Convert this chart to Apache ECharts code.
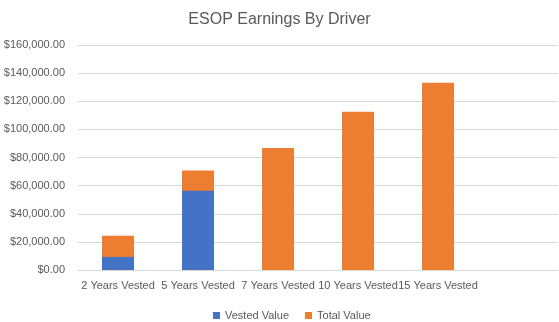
<!DOCTYPE html>
<html><head><meta charset="utf-8">
<script src="https://cdn.jsdelivr.net/npm/echarts@6/dist/echarts.min.js"></script>
<style>html,body{margin:0;padding:0;background:#fff}#c{width:559px;height:322px}</style>
</head><body><div id="c"></div>
<script>
const categories = ['2 Years Vested','5 Years Vested','7 Years Vested','10 Years Vested','15 Years Vested',''];
const vestedValue = [9300, 56400, 0, 0, 0, null];
const totalValue = [24300, 70700, 86800, 112500, 133100, null];
const yTicks = [0, 20000, 40000, 60000, 80000, 100000, 120000, 140000, 160000];

const fmt = v => '$' + v.toLocaleString('en-US', {minimumFractionDigits: 2, maximumFractionDigits: 2});
const chart = echarts.init(document.getElementById('c'));
chart.setOption({
  animation: false,
  title: { text: 'ESOP Earnings By Driver', left: 'center', top: 7,
    textStyle: { fontFamily: 'Liberation Sans', fontSize: 16, fontWeight: 'normal', color: '#595959' } },
  legend: { top: 305, left: 208, itemWidth: 7, itemHeight: 7, itemGap: 16, icon: 'rect',
    data: ['Vested Value', 'Total Value'],
    textStyle: { fontFamily: 'Liberation Sans', fontSize: 11, color: '#595959' } },
  grid: { left: 78, right: 1, top: 45, bottom: 52 },
  xAxis: { type: 'category', data: categories,
    axisLine: { lineStyle: { color: '#d9d9d9' } }, axisTick: { show: false },
    axisLabel: { interval: 0, fontFamily: 'Liberation Sans', fontSize: 11, color: '#595959', margin: 10 } },
  yAxis: { type: 'value', min: yTicks[0], max: yTicks[yTicks.length - 1], interval: 20000,
    axisLine: { show: false }, axisTick: { show: false },
    splitLine: { lineStyle: { color: '#d9d9d9' } },
    axisLabel: { formatter: fmt, fontFamily: 'Liberation Sans', fontSize: 11, color: '#595959', margin: 13 } },
  series: [
    { name: 'Vested Value', type: 'bar', data: vestedValue, barWidth: '40%', barGap: '-100%', z: 3,
      itemStyle: { color: '#4472c4' } },
    { name: 'Total Value', type: 'bar', data: totalValue, barWidth: '40%', barGap: '-100%', z: 2,
      itemStyle: { color: '#ed7d31' } }
  ]
});
</script></body></html>
